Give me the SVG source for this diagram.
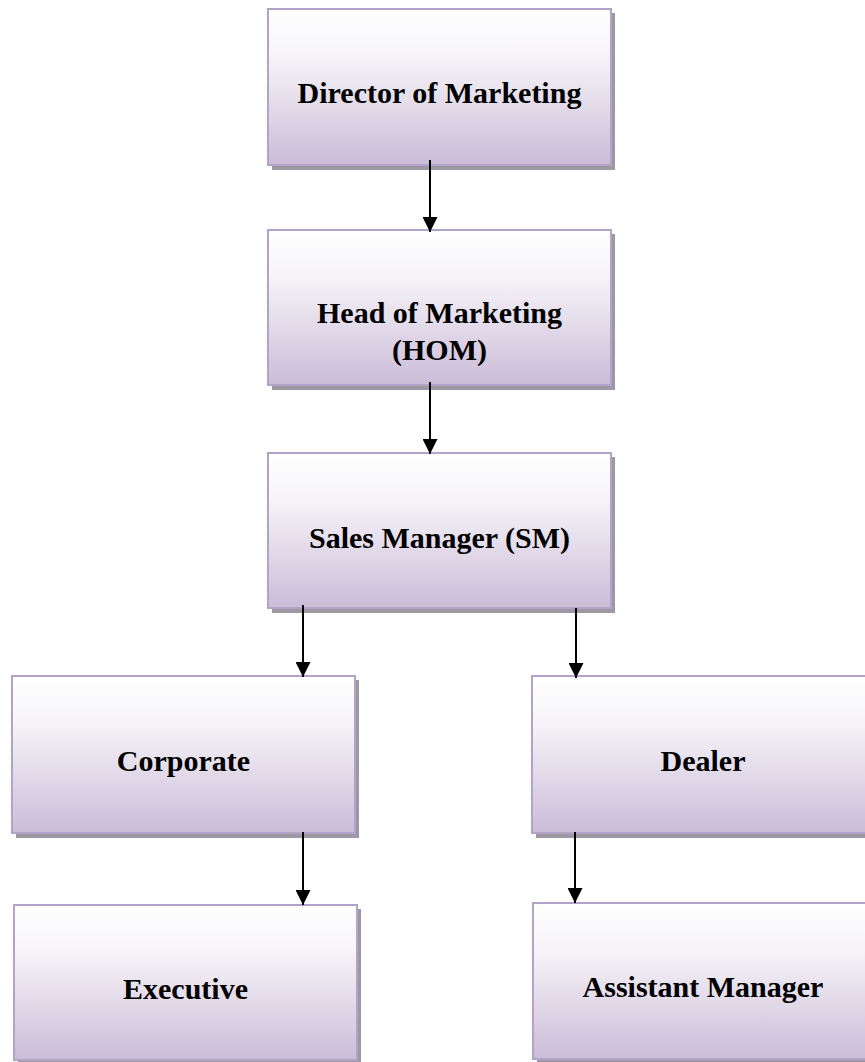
<svg xmlns="http://www.w3.org/2000/svg" width="865" height="1062" viewBox="0 0 865 1062">
<defs>
<linearGradient id="g" x1="0" y1="0" x2="0" y2="1">
<stop offset="0" stop-color="#ffffff"/>
<stop offset="0.3" stop-color="#f6f4f8"/>
<stop offset="1" stop-color="#cbbcd8"/>
</linearGradient>
<marker id="ah" markerWidth="15" markerHeight="15" viewBox="0 0 15 15" refX="15" refY="7.5" orient="auto" markerUnits="userSpaceOnUse">
<path d="M0,0 L15,7.5 L0,15 Z" fill="#000"/>
</marker>
</defs>
<style>
.sh{fill:#9d98a3}
.bx{fill:url(#g);stroke:#b3a3c9;stroke-width:2}
.t{font-family:"Liberation Serif","Times New Roman",serif;font-weight:bold;font-size:30px;fill:#000;text-anchor:middle}
.c{stroke:#000;stroke-width:2;fill:none;marker-end:url(#ah)}
</style>
<g id="director">
<rect class="sh" x="272" y="13" width="343" height="157"/>
<rect class="bx" x="268" y="9" width="343" height="156"/>
<text class="t" x="439.5" y="103">Director of Marketing</text>
</g>
<g id="hom">
<rect class="sh" x="272" y="234" width="343" height="156"/>
<rect class="bx" x="268" y="230" width="343" height="155"/>
<text class="t" x="439.5" y="323">Head of Marketing</text>
<text class="t" x="439.5" y="360">(HOM)</text>
</g>
<g id="sm">
<rect class="sh" x="272" y="457" width="343" height="156"/>
<rect class="bx" x="268" y="453" width="343" height="155"/>
<text class="t" x="439.5" y="548">Sales Manager (SM)</text>
</g>
<g id="corporate">
<rect class="sh" x="16" y="680" width="343" height="158"/>
<rect class="bx" x="12" y="676" width="343" height="157"/>
<text class="t" x="183.5" y="771">Corporate</text>
</g>
<g id="dealer">
<rect class="sh" x="536" y="680" width="343" height="158"/>
<rect class="bx" x="532" y="676" width="343" height="157"/>
<text class="t" x="703" y="771">Dealer</text>
</g>
<g id="executive">
<rect class="sh" x="18" y="909" width="343" height="156"/>
<rect class="bx" x="14" y="905" width="343" height="155"/>
<text class="t" x="185.5" y="999">Executive</text>
</g>
<g id="assistant">
<rect class="sh" x="537" y="907" width="343" height="156"/>
<rect class="bx" x="533" y="903" width="343" height="156"/>
<text class="t" x="703" y="997">Assistant Manager</text>
</g>
<g id="connectors">
<line class="c" x1="430" y1="160" x2="430" y2="232"/>
<line class="c" x1="430" y1="382" x2="430" y2="454"/>
<line class="c" x1="303" y1="605" x2="303" y2="677"/>
<line class="c" x1="576" y1="608" x2="576" y2="678"/>
<line class="c" x1="303" y1="832" x2="303" y2="905"/>
<line class="c" x1="575" y1="832" x2="575" y2="903"/>
</g>
</svg>
